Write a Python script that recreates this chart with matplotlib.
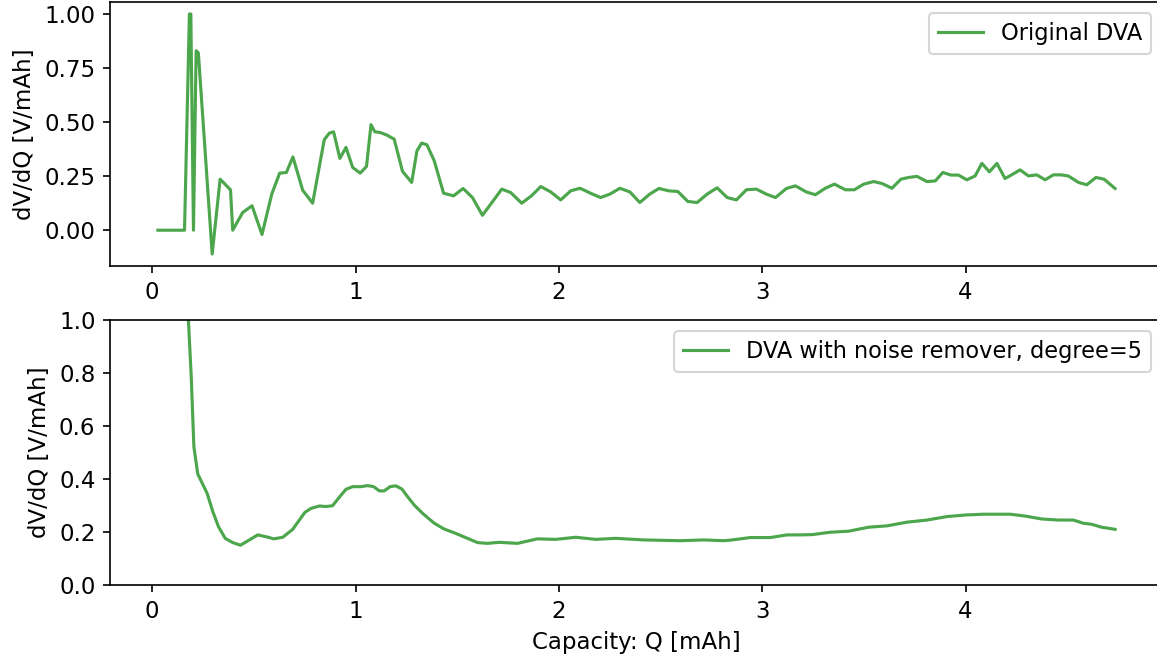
import matplotlib
matplotlib.use('Agg')
import matplotlib.pyplot as plt

# Datos de la DVA original (panel superior)
q_orig = [0.028, 0.159, 0.183, 0.19, 0.203, 0.216, 0.227, 0.295, 0.334, 0.385,
          0.396, 0.445, 0.491, 0.540, 0.588, 0.627, 0.66, 0.692, 0.74, 0.789,
          0.846, 0.871, 0.892, 0.923, 0.953, 0.986, 1.023, 1.054, 1.076, 1.095,
          1.121, 1.154, 1.19, 1.231, 1.276, 1.302, 1.325, 1.351, 1.387, 1.433,
          1.482, 1.529, 1.575, 1.624, 1.673, 1.719, 1.763, 1.817, 1.865, 1.911,
          1.96, 2.009, 2.058, 2.104, 2.156, 2.205, 2.251, 2.3, 2.349, 2.398,
          2.447, 2.492, 2.541, 2.585, 2.634, 2.68, 2.729, 2.778, 2.828, 2.873,
          2.922, 2.971, 3.02, 3.065, 3.119, 3.163, 3.217, 3.261, 3.31, 3.355,
          3.409, 3.453, 3.499, 3.548, 3.589, 3.638, 3.682, 3.72, 3.761, 3.81,
          3.851, 3.888, 3.928, 3.965, 4.006, 4.047, 4.08, 4.117, 4.154, 4.194,
          4.232, 4.268, 4.309, 4.35, 4.391, 4.432, 4.469, 4.505, 4.555, 4.596,
          4.641, 4.681, 4.735]
dva_orig = [0.0, 0.0, 1.0, 1.0, 0.0, 0.83, 0.82, -0.11, 0.236, 0.187,
            0.0, 0.082, 0.113, -0.02, 0.167, 0.264, 0.267, 0.339, 0.185, 0.125,
            0.418, 0.449, 0.455, 0.332, 0.383, 0.29, 0.264, 0.295, 0.488, 0.455,
            0.452, 0.44, 0.421, 0.272, 0.221, 0.367, 0.403, 0.395, 0.321, 0.171,
            0.159, 0.193, 0.151, 0.069, 0.131, 0.19, 0.174, 0.125, 0.159, 0.202,
            0.177, 0.14, 0.182, 0.194, 0.171, 0.151, 0.167, 0.194, 0.177, 0.128,
            0.167, 0.193, 0.182, 0.179, 0.133, 0.128, 0.167, 0.196, 0.151, 0.14,
            0.187, 0.19, 0.167, 0.151, 0.193, 0.205, 0.177, 0.164, 0.194, 0.213,
            0.187, 0.187, 0.213, 0.225, 0.216, 0.194, 0.236, 0.244, 0.249, 0.225,
            0.228, 0.267, 0.255, 0.255, 0.233, 0.251, 0.309, 0.27, 0.309, 0.239,
            0.259, 0.279, 0.251, 0.256, 0.233, 0.256, 0.256, 0.251, 0.221, 0.21,
            0.244, 0.236, 0.193]

# Datos de la DVA suavizada (panel inferior)
q_suav = [0.165, 0.178, 0.192, 0.205, 0.224, 0.27, 0.298, 0.326, 0.359, 0.396,
          0.434, 0.478, 0.519, 0.56, 0.598, 0.642, 0.691, 0.751, 0.781, 0.822,
          0.855, 0.887, 0.92, 0.953, 0.986, 1.027, 1.059, 1.089, 1.117, 1.141,
          1.17, 1.198, 1.228, 1.256, 1.288, 1.33, 1.387, 1.436, 1.485, 1.51,
          1.6, 1.649, 1.706, 1.796, 1.894, 1.984, 2.083, 2.181, 2.279, 2.418,
          2.598, 2.713, 2.811, 2.852, 2.942, 3.04, 3.122, 3.188, 3.245, 3.335,
          3.425, 3.523, 3.613, 3.712, 3.81, 3.908, 3.998, 4.088, 4.219, 4.293,
          4.375, 4.456, 4.53, 4.579, 4.62, 4.669, 4.735]
dva_suav = [1.25, 1.0, 0.786, 0.522, 0.419, 0.346, 0.277, 0.22, 0.176, 0.16,
            0.15, 0.17, 0.189, 0.182, 0.174, 0.18, 0.21, 0.274, 0.289, 0.298,
            0.296, 0.299, 0.331, 0.361, 0.371, 0.371, 0.375, 0.371, 0.355, 0.355,
            0.371, 0.374, 0.362, 0.333, 0.302, 0.27, 0.233, 0.211, 0.197, 0.189,
            0.16, 0.157, 0.161, 0.157, 0.174, 0.172, 0.18, 0.172, 0.176, 0.17,
            0.167, 0.17, 0.167, 0.17, 0.179, 0.179, 0.189, 0.189, 0.19, 0.199,
            0.203, 0.218, 0.223, 0.237, 0.245, 0.258, 0.264, 0.267, 0.267, 0.26,
            0.249, 0.245, 0.245, 0.233, 0.229, 0.218, 0.21]

plt.rcParams['font.size'] = 11

fig = plt.figure(figsize=(1157 / 150, 661 / 150), dpi=150)
# el eje derecho queda fuera de la imagen, como en el original recortado
ax1 = fig.add_axes([0.0951, 0.5976, 0.910, 0.3994])
ax2 = fig.add_axes([0.0951, 0.115, 0.910, 0.401])

# Panel superior
ax1.plot(q_orig, dva_orig, color='g', alpha=0.7, label='Original DVA')
ax1.set_ylabel('dV/dQ [V/mAh]')
ax1.legend(loc='upper right', bbox_to_anchor=(0.9995, 1), fontsize=10.8)

# Panel inferior
ax2.plot(q_suav, dva_suav, color='g', alpha=0.7, label='DVA with noise remover, degree=5')
ax2.set_ylim(0, 1)
ax2.set_xlim(ax1.get_xlim())
ax2.set_ylabel('dV/dQ [V/mAh]')
ax2.set_xlabel('Capacity: Q [mAh]')
ax2.legend(loc='upper right', bbox_to_anchor=(0.9995, 1), fontsize=10.8)

plt.savefig('out.png', dpi=150)
